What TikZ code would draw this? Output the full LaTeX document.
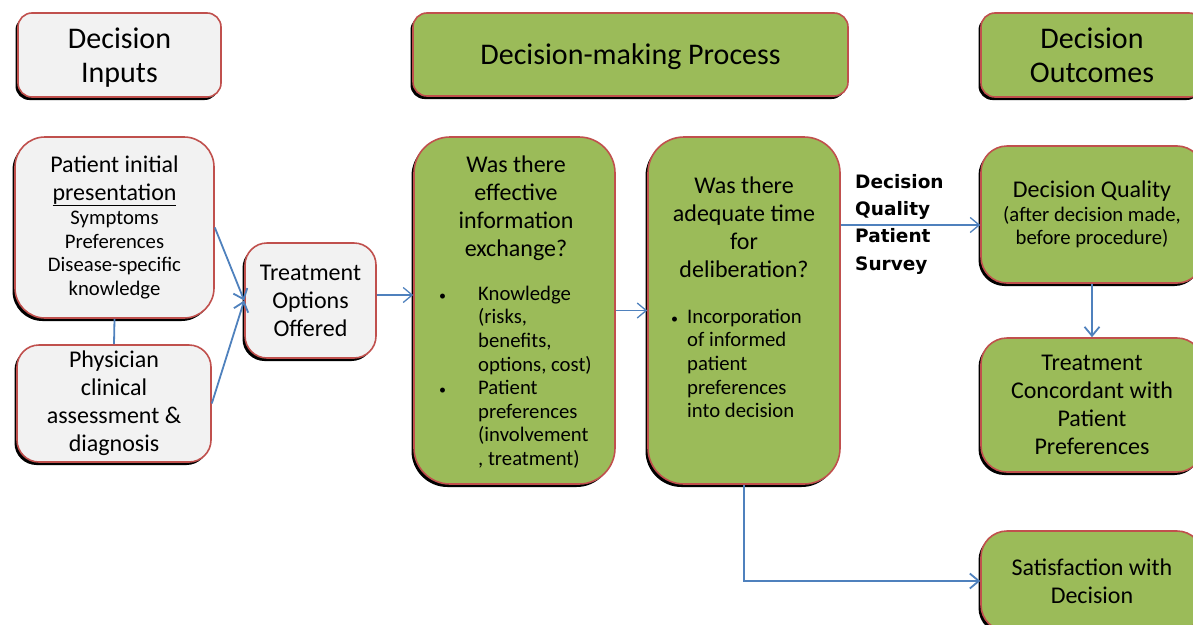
\documentclass[tikz,border=0pt]{standalone}
\usepackage{fontspec}
\setmainfont{Carlito}
\newfontfamily\surveyfont{DejaVu Sans}
\usetikzlibrary{arrows.meta, shadows}

\definecolor{edgered}{HTML}{C0504D}
\definecolor{leafgreen}{HTML}{9BBB59}
\definecolor{panelgrey}{HTML}{F2F2F2}
\definecolor{linkblue}{HTML}{4F81BD}

\newcommand\headsize{\fontsize{30}{34}\selectfont}
\newcommand\bodysize{\fontsize{24}{28}\selectfont}
\newcommand\notesize{\fontsize{20.7}{23.6}\selectfont}
\newcommand\listdot{{\fontsize{14}{14}\selectfont\textbullet}}

\begin{document}
\begin{tikzpicture}[x=1pt, y=-1pt,
	card/.style={draw=edgered, line width=1.6pt, rounded corners=#1, align=center, inner sep=2pt,
		drop shadow={shadow xshift=-2.5pt, shadow yshift=-3pt, fill=black, opacity=1}},
	card/.default=20pt,
	greycard/.style={card=#1, fill=panelgrey},
	greycard/.default=20pt,
	greencard/.style={card=#1, fill=leafgreen},
	greencard/.default=20pt,
	link/.style={draw=linkblue, line width=1.8pt, -{Straight Barb[length=9pt, width=15pt]}},
	thinlink/.style={link, line width=1.3pt}]
	\useasboundingbox (0, 0) rectangle (1193, 624);
	%headings
	\node[greycard=14pt, minimum width=203pt, minimum height=84pt, font=\headsize, text depth=0pt] (inhead) at (119.5, 55) {Decision\\Inputs};
	\node[greencard=14pt, minimum width=435pt, minimum height=83pt, font=\headsize, text depth=0pt] (prochead) at (630.5, 54.5) {Decision-making Process};
	\node[greencard=14pt, minimum width=222pt, minimum height=84pt, font=\headsize] (outhead) at (1092, 55) {Decision\\Outcomes};
	%inputs
	\node[greycard=30pt, minimum width=199pt, minimum height=181pt, font=\notesize] (patient) at (114.5, 227.5)
		{{\bodysize Patient initial}\\[4pt] {\bodysize\underline{presentation}}\\[1pt] Symptoms\\ Preferences\\ Disease-specific\\ knowledge};
	\node[greycard=22pt, minimum width=194pt, minimum height=117pt, font=\bodysize] (physician) at (114, 403.5) {Physician\\clinical\\assessment \&\\diagnosis};
	\node[greycard=22pt, minimum width=131pt, minimum height=115pt, font=\bodysize] (options) at (310.5, 300.5) {Treatment\\Options\\Offered};
	%process
	\node[greencard=36pt, minimum width=201pt, minimum height=347pt] (exchange) at (514.5, 310.5) {};
	\node[font=\bodysize, anchor=north, inner sep=0pt] (exchangeq) at (516, 152.5)
		{\begin{tabular}{@{}c@{}}Was there\\effective\\information\\exchange?\end{tabular}};
	\node[font=\notesize, anchor=north west, inner sep=0pt] (exchangelist) at (439, 283.5)
		{\begin{tabular}{@{}p{39pt}@{}l@{}}\listdot & Knowledge\\ & (risks,\\ & benefits,\\ & options, cost)\\
		\listdot & Patient\\ & preferences\\ & (involvement\\ & , treatment)\end{tabular}};
	\node[greencard=36pt, minimum width=192pt, minimum height=347pt] (deliberation) at (744, 310.5) {};
	\node[font=\bodysize, anchor=north, inner sep=0pt] (deliberationq) at (744, 173.4)
		{\begin{tabular}{@{}c@{}}Was there\\adequate time\\for\\deliberation?\end{tabular}};
	\node[font=\notesize, anchor=north west, inner sep=0pt] (deliberationlist) at (671, 306.5)
		{\begin{tabular}{@{}p{16pt}@{}l@{}}\listdot & Incorporation\\ & of informed\\ & patient\\ & preferences\\ & into decision\end{tabular}};
	%outcomes
	\node[greencard=26pt, minimum width=222pt, minimum height=137pt, font=\notesize] (quality) at (1092, 214.5)
		{{\bodysize Decision Quality}\\(after decision made,\\before procedure)};
	\node[greencard=26pt, minimum width=222pt, minimum height=134pt, font=\bodysize] (concordant) at (1092, 405) {Treatment\\Concordant with\\Patient\\Preferences};
	\node[greencard=26pt, minimum width=222pt, minimum height=100pt, font=\bodysize] (satisfaction) at (1092, 581) {Satisfaction with\\Decision};
	%survey
	\node[font=\surveyfont\bfseries\fontsize{18.5}{27.3}\selectfont, anchor=north west, inner sep=0pt] (survey) at (855, 168.9)
		{\begin{tabular}{@{}l@{}}Decision\\Quality\\Patient\\Survey\end{tabular}};
	%links
	\draw[link] (patient.east) -- (options.west);
	\draw[link] (physician.east) -- (options.west);
	\draw[link, -] (patient.south) -- (physician.north);
	\coordinate (optout) at ([yshift=5.5pt]options.east);
	\draw[thinlink] (optout) -- (optout -| exchange.west);
	\draw[thinlink] (exchange.east) -- (deliberation.west);
	\coordinate (surveyin) at ([yshift=-10.5pt]quality.west);
	\draw[thinlink] (surveyin -| deliberation.east) -- (surveyin);
	\draw[link] (deliberation.south) |- (satisfaction.west);
	\draw[link] (quality.south) -- (concordant.north);
\end{tikzpicture}
\end{document}
